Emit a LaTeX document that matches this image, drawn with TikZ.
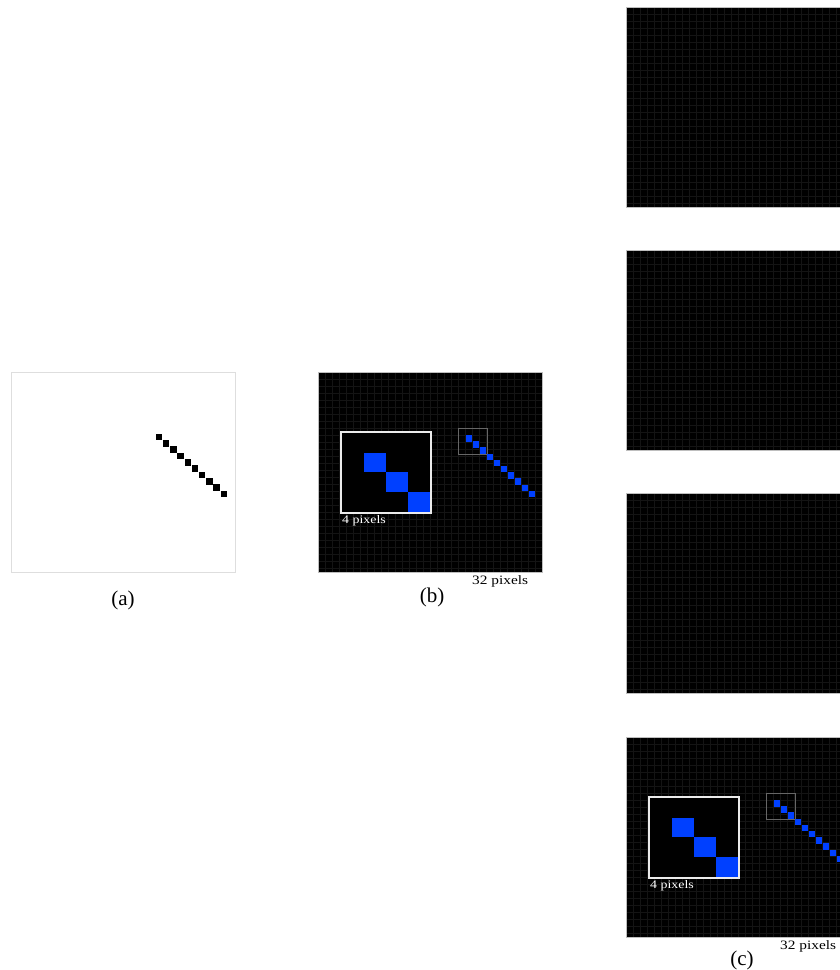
\documentclass[tikz,border=0pt]{standalone}
\usepackage{fontspec}
\setmainfont{Liberation Serif}
\newfontfamily\lblfont[FakeStretch=1.2]{Liberation Serif}
\definecolor{pixblue}{RGB}{0,64,255}
\definecolor{gridgray}{RGB}{20,20,20}
\definecolor{framegray}{RGB}{190,190,190}
\definecolor{lightframe}{RGB}{222,222,222}
\tikzset{
  gridline/.style={draw=gridgray, line width=0.5pt},
  panelframe/.style={draw=framegray, line width=0.8pt},
  insetframe/.style={draw=white!92!black, line width=1.2pt},
  roiframe/.style={draw=white!40!black, line width=0.7pt},
  bluepix/.style={fill=pixblue},
  blackpix/.style={fill=black},
  smalllbl/.style={inner sep=0pt, font=\lblfont\fontsize{11.6}{13}\selectfont},
  pixlbl/.style={inner sep=0pt, font=\lblfont\fontsize{12.8}{15}\selectfont},
  caption/.style={inner sep=0pt, font=\fontsize{21}{24}\selectfont},
}
\newcommand\darkpanel[2]{%
  \fill[black] (#1,#2) rectangle ++(224,200);
  \begin{scope}
    \clip (#1,#2) rectangle ++(224,200);
    \foreach \i in {1,...,31} \draw[gridline] ({#1+7*\i},#2) -- ++(0,200);
    \foreach \j in {1,...,28} \draw[gridline] (#1,{#2+7*\j}) -- ++(224,0);
  \end{scope}
  \draw[panelframe] (#1,#2) rectangle ++(224,200);
}
\newcommand\zoomcontent[3]{%
  \begin{scope}[shift={(#1,#2)}]
    \fill[black] (23,60) rectangle (113,141);
    \fill[bluepix] (46,81) rectangle (68,100);
    \fill[bluepix] (68,100) rectangle (90,120);
    \fill[bluepix] (90,120) rectangle (112,140);
    \draw[insetframe] (23,60) rectangle (113,141);
    \draw[roiframe] (140,56) rectangle (169,82);
    \foreach \k in {0,...,9}
      \fill[bluepix] ({151+7.03*\k-3.2},{66.3+6.19*\k-3.2}) rectangle ++(6.4,6.4);
    \node[smalllbl, text=white, anchor=west] (#3four) at (24,149) {4 pixels};
  \end{scope}
}
\begin{document}
\begin{tikzpicture}[x=1pt, y=-1pt]
  \useasboundingbox (0,0) rectangle (840,970);
  \fill[white] (0,0) rectangle (840,970);

  % panel (a)
  \draw[lightframe, line width=1pt] (11,372) rectangle (235,572);
  \foreach \k in {0,...,9}
    \fill[blackpix] ({159+7.2*\k-3.25},{437+6.33*\k-3.25}) rectangle ++(6.5,6.5);
  \node[caption] (capa) at (123,600) {(a)};

  % panel (b)
  \darkpanel{318}{372}
  \zoomcontent{318}{372}{b}
  \node[pixlbl, anchor=west] (bpix) at (472,581) {32 pixels};
  \node[caption] (capb) at (432,597) {(b)};

  % panels (c)
  \darkpanel{626}{7.5}
  \darkpanel{626}{250.5}
  \darkpanel{626}{493.5}
  \darkpanel{626}{737}
  \zoomcontent{626}{737}{c}
  \node[pixlbl, anchor=west] (cpix) at (780,946) {32 pixels};
  \node[caption] (capc) at (742,960) {(c)};
\end{tikzpicture}
\end{document}
